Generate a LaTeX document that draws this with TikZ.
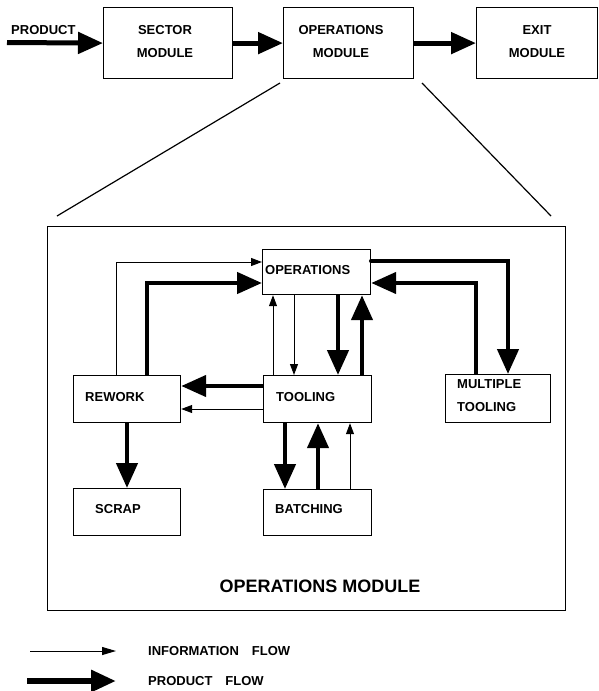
\documentclass[tikz,border=0pt]{standalone}
\usepackage{fontspec}
\setmainfont{Liberation Sans}
\usetikzlibrary{arrows.meta}
\begin{document}
\begin{tikzpicture}[x=1pt,y=-1pt,
  box/.style={draw, line width=1.2pt, rectangle, inner sep=0pt, anchor=north west},
  lbl/.style={font=\fontsize{13}{15}\selectfont\bfseries, inner sep=0pt, anchor=west},
  lbltwo/.style={font=\fontsize{13}{23}\selectfont\bfseries, inner sep=0pt, align=center},
  info/.style={line width=1pt, -{Triangle[length=11pt,width=8pt]}},
  prod/.style={line width=4.5pt, -{Triangle[length=25pt,width=21pt]}},
  bigprod/.style={line width=5pt, -{Triangle[length=25pt,width=21pt]}},
  plain/.style={line width=1.2pt}]
\useasboundingbox (0,0) rectangle (599,691);

% ---- top row ----
\node[box, minimum width=129pt, minimum height=71pt] (sector) at (103,7) {};
\node[box, minimum width=130pt, minimum height=71pt] (opsmod) at (283,7) {};
\node[box, minimum width=121pt, minimum height=71pt] (exit) at (476,7) {};
\node[lbltwo] (sectort) at (165,41.5) {SECTOR\\MODULE};
\node[lbltwo] (opsmodt) at (341,41.5) {OPERATIONS\\MODULE};
\node[lbltwo] (exitt) at (537,41.5) {EXIT\\MODULE};
\node[lbl] (productt) at (11,30) {PRODUCT};
\coordinate (pin) at (7,42.5);
\draw[bigprod] (pin) -- (sector.west);
\draw[bigprod] (sector.east) -- (opsmod.west);
\draw[bigprod] (opsmod.east) -- (exit.west);

% ---- zoom lines ----
\coordinate (dl1) at (280,83);
\coordinate (dl2) at (57,216);
\coordinate (dr1) at (422,83);
\coordinate (dr2) at (551,216);
\draw[plain] (dl1) -- (dl2);
\draw[plain] (dr1) -- (dr2);

% ---- operations module frame ----
\node[box, minimum width=518pt, minimum height=384pt] (frame) at (47,226) {};
\node[font=\fontsize{18}{20}\selectfont\bfseries, inner sep=0pt] (framet) at (320,586) {OPERATIONS MODULE};

% ---- inner boxes ----
\node[box, minimum width=108pt, minimum height=45pt] (ops) at (262,249) {};
\node[box, minimum width=107pt, minimum height=47pt] (rework) at (73,375) {};
\node[box, minimum width=108pt, minimum height=47pt] (tooling) at (263,375) {};
\node[box, minimum width=105pt, minimum height=48pt] (mtool) at (445,374) {};
\node[box, minimum width=107pt, minimum height=47pt] (scrap) at (73,488) {};
\node[box, minimum width=108pt, minimum height=46pt] (batch) at (263,489) {};

\node[lbl] (opst) at (265,270) {OPERATIONS};
\node[lbl] (reworkt) at (85,397) {REWORK};
\node[lbl] (toolingt) at (276,397) {TOOLING};
\node[lbl] (mtoolta) at (457,384) {MULTIPLE};
\node[lbl] (mtooltb) at (457,407) {TOOLING};
\node[lbl] (scrapt) at (95,509) {SCRAP};
\node[lbl] (batcht) at (275,509) {BATCHING};

% ---- connectors ----
\draw[info] (rework.north -| 116,0) |- (ops.west |- 0,262);
\draw[prod] (rework.north -| 147,0) |- (ops.west |- 0,283);
\draw[info] (tooling.north -| 273,0) -- (ops.south -| 273,0);
\draw[info] (ops.south -| 294,0) -- (tooling.north -| 294,0);
\draw[prod] (ops.south -| 338,0) -- (tooling.north -| 338,0);
\draw[prod] (tooling.north -| 362,0) -- (ops.south -| 362,0);
\draw[prod, line cap=round] (ops.east |- 0,261) -| (mtool.north -| 508,0);
\draw[prod] (mtool.north -| 476,0) |- (ops.east |- 0,283);
\draw[prod] (tooling.west |- 0,386) -- (rework.east |- 0,386);
\draw[info] (tooling.west |- 0,409) -- (rework.east |- 0,409);
\draw[prod] (rework.south -| 127,0) -- (scrap.north -| 127,0);
\draw[prod] (tooling.south -| 285,0) -- (batch.north -| 285,0);
\draw[prod] (batch.north -| 318,0) -- (tooling.south -| 318,0);
\draw[info] (batch.north -| 350,0) -- (tooling.south -| 350,0);

% ---- legend ----
\coordinate (li1) at (30,651);
\coordinate (li2) at (116,651);
\coordinate (lp1) at (27,681);
\coordinate (lp2) at (116,681);
\draw[info, -{Triangle[length=14pt,width=8pt]}] (li1) -- (li2);
\draw[bigprod, line width=6pt] (lp1) -- (lp2);
\node[lbl] (infot) at (148,651) {INFORMATION\quad FLOW};
\node[lbl] (prodt) at (148,681) {PRODUCT\quad FLOW};
\end{tikzpicture}
\end{document}
